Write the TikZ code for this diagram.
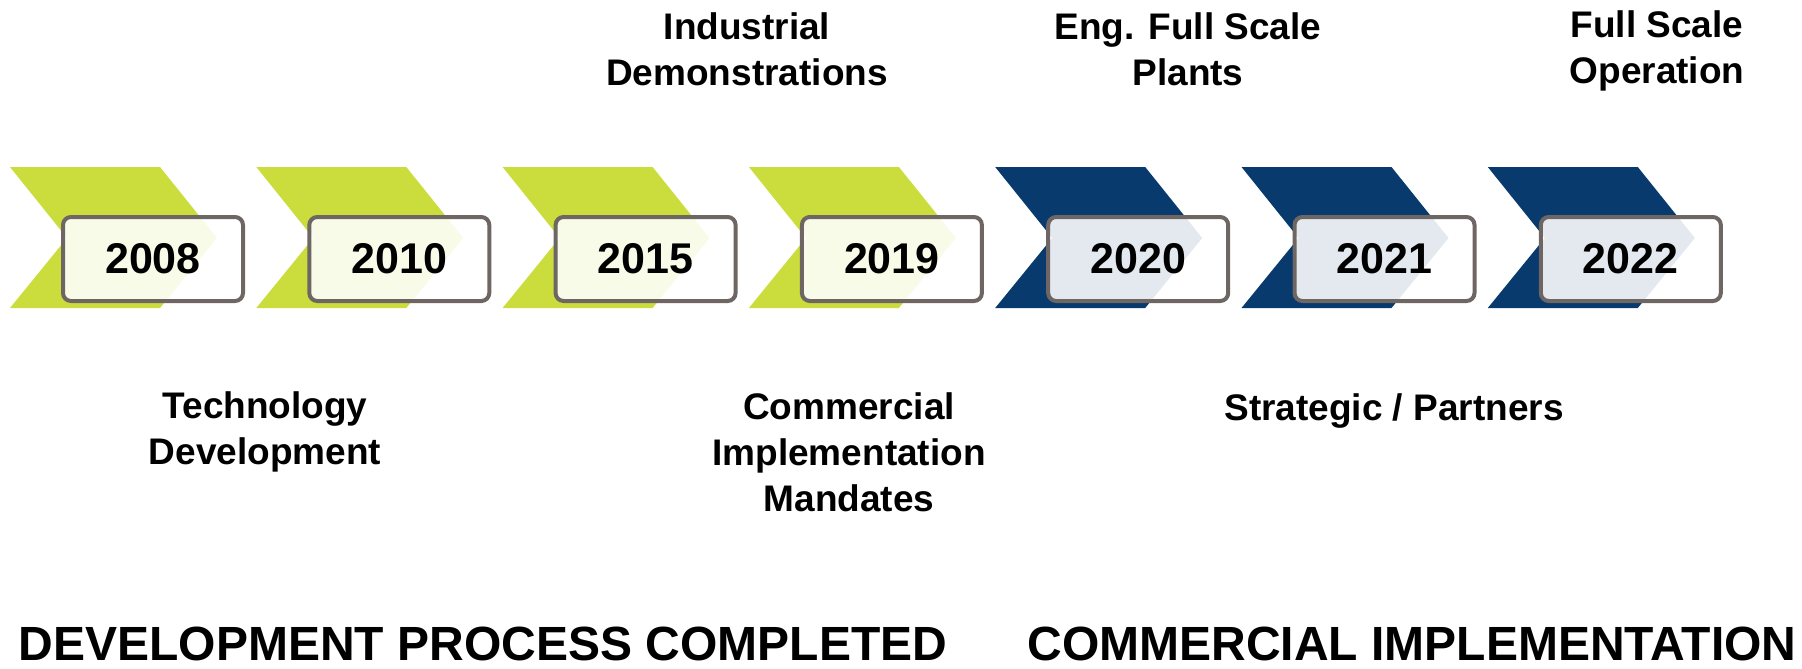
\documentclass[tikz,border=0pt]{standalone}
\usepackage{fontspec}
\setmainfont{Liberation Sans}
\definecolor{chevgreen}{RGB}{203,221,61}
\definecolor{chevblue}{RGB}{8,58,110}
\definecolor{boxgray}{RGB}{110,102,98}
\begin{document}
\begin{tikzpicture}[x=1pt,y=-1pt,
  yearbox/.style={draw=boxgray, line width=4pt, rounded corners=8pt, fill=white,
    fill opacity=0.89, text opacity=1, minimum width=180pt, minimum height=84pt,
    inner sep=0pt, font=\fontsize{43}{50}\selectfont\bfseries},
  lbl/.style={align=center, inner sep=0pt, font=\fontsize{37}{46}\selectfont\bfseries},
  ttl/.style={inner sep=0pt, anchor=base, font=\fontsize{48}{56}\selectfont\bfseries}]
\useasboundingbox (0,0) rectangle (1802,669);
\foreach \i/\yr/\col in {0/2008/chevgreen,1/2010/chevgreen,2/2015/chevgreen,3/2019/chevgreen,4/2020/chevblue,5/2021/chevblue,6/2022/chevblue}{
  \pgfmathsetmacro{\xo}{10+246.3*\i}
  \fill[\col] (\xo,167) -- ++(150,0) -- ++(57,71) -- ++(-57,70) -- ++(-150,0) -- ++(57,-70) -- cycle;
  \node[yearbox] (y\yr) at (\xo+143,259) {\yr};
}
\node[lbl] (ind) at (747,49) {Industrial\\Demonstrations};
\node[lbl] (eng) at (1188,49) {Eng. Full Scale\\Plants};
\node[lbl] (fso) at (1657,51) {Full Scale\\Operation};
\node[lbl] (tech) at (265,432) {Technology\\Development};
\node[lbl] (cim) at (849,452) {Commercial\\Implementation\\Mandates};
\node[lbl] (stp) at (1394,411) {Strategic / Partners};
\node[ttl] (dev) at (483,660) {DEVELOPMENT PROCESS COMPLETED};
\node[ttl] (com) at (1412,660) {COMMERCIAL IMPLEMENTATION};
\end{tikzpicture}
\end{document}
